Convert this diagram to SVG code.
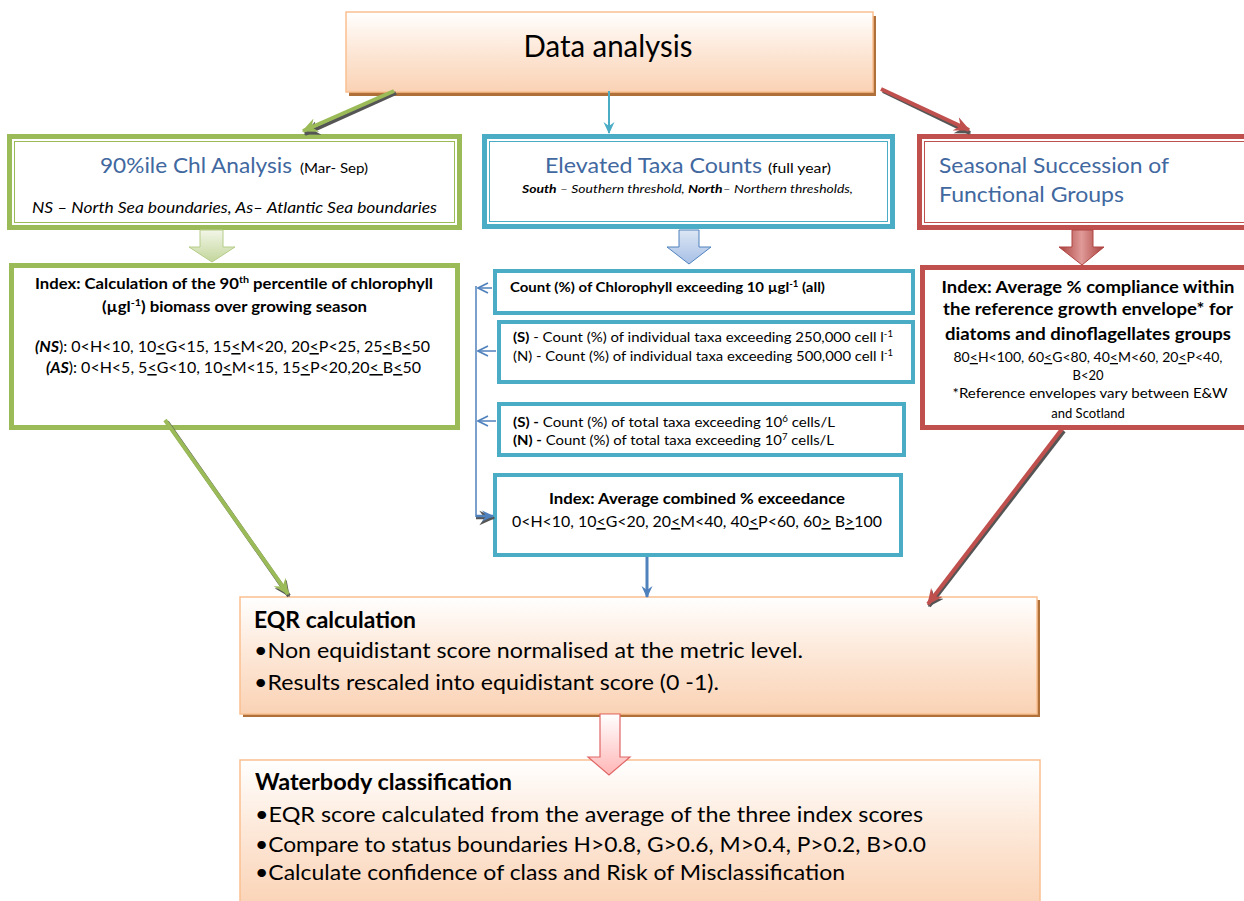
<svg xmlns="http://www.w3.org/2000/svg" width="1244" height="901" viewBox="0 0 1244 901">
<style>
text{font-family:Lato,"Open Sans","Liberation Sans",sans-serif;fill:#000}
.hd{fill:#41689F;font-size:22px}
.sm{font-size:14px}
.b{font-weight:bold}
.i{font-style:italic}
.u{text-decoration:underline}
.gb{fill:none;stroke:#9BBB59}
.bb{fill:none;stroke:#4BACC6}
.rb{fill:none;stroke:#C0504D}
.wf{fill:#fff}
</style>
<defs>
<linearGradient id="peach" x1="0" y1="0" x2="0" y2="1">
<stop offset="0" stop-color="#FFFFFF"/><stop offset="0.45" stop-color="#FDE9DA"/><stop offset="1" stop-color="#FAD2B4"/>
</linearGradient>
<linearGradient id="gArr" x1="0" y1="0" x2="0" y2="1">
<stop offset="0" stop-color="#F2F6E8"/><stop offset="1" stop-color="#C3D69B"/>
</linearGradient>
<linearGradient id="bArr" x1="0" y1="0" x2="0" y2="1">
<stop offset="0" stop-color="#DCE6F4"/><stop offset="1" stop-color="#A7C0E6"/>
</linearGradient>
<linearGradient id="rArr" x1="0" y1="0" x2="1" y2="0">
<stop offset="0" stop-color="#A8403D"/><stop offset="0.5" stop-color="#E09A98"/><stop offset="1" stop-color="#A8403D"/>
</linearGradient>
<linearGradient id="pArr" x1="0" y1="0" x2="0" y2="1">
<stop offset="0" stop-color="#FFFFFF"/><stop offset="1" stop-color="#FFB6B6"/>
</linearGradient>
<marker id="mg" viewBox="0 0 12 12" refX="11" refY="6" markerWidth="16" markerHeight="16" markerUnits="userSpaceOnUse" orient="auto"><path d="M0,0.5 L12,6 L0,11.5 L4,6 z" fill="#9BBB59"/></marker>
<marker id="ms" viewBox="0 0 12 12" refX="11" refY="6" markerWidth="16" markerHeight="16" markerUnits="userSpaceOnUse" orient="auto"><path d="M0,0.5 L12,6 L0,11.5 L4,6 z" fill="#555"/></marker>
<marker id="mr" viewBox="0 0 12 12" refX="11" refY="6" markerWidth="16" markerHeight="16" markerUnits="userSpaceOnUse" orient="auto"><path d="M0,0.5 L12,6 L0,11.5 L4,6 z" fill="#C0504D"/></marker>
<marker id="mb" viewBox="0 0 12 12" refX="11" refY="6" markerWidth="12" markerHeight="12" markerUnits="userSpaceOnUse" orient="auto"><path d="M0,0.5 L12,6 L0,11.5 L4,6 z" fill="#4BACC6"/></marker>
<marker id="md" viewBox="0 0 12 12" refX="11" refY="6" markerWidth="12" markerHeight="12" markerUnits="userSpaceOnUse" orient="auto"><path d="M0,0.5 L12,6 L0,11.5 L4,6 z" fill="#4F81BD"/></marker>
<marker id="mo" viewBox="0 0 12 12" refX="11" refY="6" markerWidth="12" markerHeight="12" markerUnits="userSpaceOnUse" orient="auto"><path d="M1,1 L11,6 L1,11" fill="none" stroke="#4F81BD" stroke-width="1.6"/></marker>
</defs>

<g id="data-analysis">
<rect x="349" y="16" width="527" height="80" fill="#B0703A"/>
<rect x="346" y="12" width="527" height="80" fill="url(#peach)" stroke="#FAC090" stroke-width="1.5"/>
<text x="608" y="57" font-size="31" text-anchor="middle" textLength="169" lengthAdjust="spacingAndGlyphs">Data analysis</text>
</g>

<g id="chl-analysis">
<rect x="9.5" y="136.5" width="450" height="91" class="wf"/>
<rect x="9.5" y="136.5" width="450" height="91" class="gb" stroke-width="5"/>
<rect x="14.5" y="141.5" width="440" height="81" class="gb" stroke-width="1"/>
<text x="100" y="173" class="hd" textLength="192" lengthAdjust="spacingAndGlyphs">90%ile Chl Analysis</text>
<text x="300" y="173" class="sm" textLength="68" lengthAdjust="spacingAndGlyphs">(Mar- Sep)</text>
<text x="32" y="213" font-size="16" class="i" textLength="405" lengthAdjust="spacingAndGlyphs">NS – North Sea boundaries,  As– Atlantic Sea boundaries</text>
</g>

<g id="taxa-counts">
<rect x="484.5" y="136.5" width="408" height="90" class="wf"/>
<rect x="484.5" y="136.5" width="408" height="90" class="bb" stroke-width="5"/>
<rect x="489.5" y="141.5" width="398" height="80" class="bb" stroke-width="1"/>
<text x="545" y="173" class="hd" textLength="217" lengthAdjust="spacingAndGlyphs">Elevated Taxa Counts</text>
<text x="768" y="173" class="sm" textLength="63" lengthAdjust="spacingAndGlyphs">(full year)</text>
<text x="522" y="193" font-size="12" class="i" textLength="331" lengthAdjust="spacingAndGlyphs"><tspan class="b">South</tspan> – Southern threshold,  <tspan class="b">North</tspan>– Northern thresholds,</text>
</g>

<g id="seasonal-succession">
<rect x="919.5" y="136.5" width="340" height="91" class="wf"/>
<rect x="919.5" y="136.5" width="340" height="91" class="rb" stroke-width="5"/>
<rect x="924.5" y="141.5" width="330" height="81" class="rb" stroke-width="1"/>
<text x="939" y="173" class="hd" textLength="230" lengthAdjust="spacingAndGlyphs">Seasonal Succession of</text>
<text x="939" y="202" class="hd" textLength="185" lengthAdjust="spacingAndGlyphs">Functional Groups</text>
</g>

<g id="chl-index">
<rect x="11.5" y="265.5" width="446" height="162" class="wf"/>
<rect x="11.5" y="265.5" width="446" height="162" class="gb" stroke-width="5"/>
<text x="35" y="289" font-size="15.5" class="b" textLength="398" lengthAdjust="spacingAndGlyphs">Index: Calculation of the 90<tspan dy="-6" font-size="10">th</tspan><tspan dy="6"> percentile of chlorophyll</tspan></text>
<text x="102" y="312" font-size="15.5" class="b" textLength="265" lengthAdjust="spacingAndGlyphs">(µgl<tspan dy="-6" font-size="10">-1</tspan><tspan dy="6">) biomass over growing season</tspan></text>
<text x="35" y="352" font-size="15.5" textLength="395" lengthAdjust="spacingAndGlyphs"><tspan class="b i">(NS</tspan>): 0&lt;H&lt;10, 10<tspan class="u">&lt;</tspan>G&lt;15, 15<tspan class="u">&lt;</tspan>M&lt;20, 20<tspan class="u">&lt;</tspan>P&lt;25, 25<tspan class="u">&lt;</tspan>B<tspan class="u">&lt;</tspan>50</text>
<text x="46" y="373" font-size="15.5" textLength="375" lengthAdjust="spacingAndGlyphs"><tspan class="b i">(AS</tspan>): 0&lt;H&lt;5, 5<tspan class="u">&lt;</tspan>G&lt;10, 10<tspan class="u">&lt;</tspan>M&lt;15, 15<tspan class="u">&lt;</tspan>P&lt;20,20<tspan class="u">&lt; </tspan>B<tspan class="u">&lt;</tspan>50</text>
</g>

<g id="count-chl">
<rect x="495" y="271" width="418" height="42" class="wf"/>
<rect x="495" y="271" width="418" height="42" class="bb" stroke-width="4"/>
<text x="510" y="292" font-size="14" class="b" textLength="315" lengthAdjust="spacingAndGlyphs">Count (%) of Chlorophyll exceeding 10 µgl<tspan dy="-5" font-size="9">-1</tspan><tspan dy="5"> (all)</tspan></text>
</g>

<g id="count-individual">
<rect x="499" y="322" width="414" height="60" class="wf"/>
<rect x="499" y="322" width="414" height="60" class="bb" stroke-width="4"/>
<text x="513" y="342" font-size="14" textLength="380" lengthAdjust="spacingAndGlyphs"><tspan class="b">(S)</tspan> - Count (%) of individual taxa exceeding  250,000 cell l<tspan dy="-5" font-size="9">-1</tspan></text>
<text x="513" y="361" font-size="14" textLength="380" lengthAdjust="spacingAndGlyphs">(N) - Count (%) of individual taxa exceeding  500,000 cell l<tspan dy="-5" font-size="9">-1</tspan></text>
</g>

<g id="count-total">
<rect x="499" y="404" width="405" height="51" class="wf"/>
<rect x="499" y="404" width="405" height="51" class="bb" stroke-width="4"/>
<text x="513" y="427" font-size="14" textLength="322" lengthAdjust="spacingAndGlyphs"><tspan class="b">(S) -</tspan>   Count (%) of total taxa exceeding 10<tspan dy="-5" font-size="9">6</tspan><tspan dy="5"> cells/L</tspan></text>
<text x="513" y="445" font-size="14" textLength="321" lengthAdjust="spacingAndGlyphs"><tspan class="b">(N) -</tspan>  Count (%) of total taxa exceeding 10<tspan dy="-5" font-size="9">7</tspan><tspan dy="5"> cells/L</tspan></text>
</g>

<g id="taxa-index">
<rect x="495" y="475" width="406" height="80" class="wf"/>
<rect x="495" y="475" width="406" height="80" class="bb" stroke-width="4"/>
<text x="549" y="504" font-size="16" class="b" textLength="296" lengthAdjust="spacingAndGlyphs">Index: Average combined % exceedance</text>
<text x="512" y="527" font-size="16" textLength="370" lengthAdjust="spacingAndGlyphs">0&lt;H&lt;10, 10<tspan class="u">&lt;</tspan>G&lt;20, 20<tspan class="u">&lt;</tspan>M&lt;40,  40<tspan class="u">&lt;</tspan>P&lt;60, 60<tspan class="u">&gt;</tspan> B<tspan class="u">&gt;</tspan>100</text>
</g>

<g id="seasonal-index">
<rect x="922.5" y="267.5" width="340" height="160" class="wf"/>
<rect x="922.5" y="267.5" width="340" height="160" class="rb" stroke-width="5"/>
<text x="1088" y="293" font-size="17.5" class="b" text-anchor="middle" textLength="293" lengthAdjust="spacingAndGlyphs">Index: Average % compliance within</text>
<text x="1088" y="315" font-size="17.5" class="b" text-anchor="middle" textLength="290" lengthAdjust="spacingAndGlyphs">the reference growth envelope* for</text>
<text x="1088" y="340" font-size="17.5" class="b" text-anchor="middle" textLength="286" lengthAdjust="spacingAndGlyphs">diatoms and dinoflagellates groups</text>
<text x="1088" y="362" font-size="13" text-anchor="middle" textLength="269" lengthAdjust="spacingAndGlyphs">80<tspan class="u">&lt;</tspan>H&lt;100, 60<tspan class="u">&lt;</tspan>G&lt;80, 40<tspan class="u">&lt;</tspan>M&lt;60, 20<tspan class="u">&lt;</tspan>P&lt;40,</text>
<text x="1088" y="380" font-size="13" text-anchor="middle">B&lt;20</text>
<text x="1090" y="398" font-size="13" text-anchor="middle" textLength="275" lengthAdjust="spacingAndGlyphs">*Reference envelopes  vary between E&amp;W</text>
<text x="1088" y="418" font-size="13" text-anchor="middle">and Scotland</text>
</g>

<g id="eqr-calculation">
<rect x="243" y="600" width="797" height="117" fill="#B0703A"/>
<rect x="240" y="597" width="797" height="117" fill="url(#peach)" stroke="#FAC090" stroke-width="1.5"/>
<text x="254" y="628" font-size="22" class="b" textLength="162" lengthAdjust="spacingAndGlyphs">EQR calculation</text>
<text x="254" y="658" font-size="22" textLength="549" lengthAdjust="spacingAndGlyphs">•Non equidistant score normalised at the metric level.</text>
<text x="254" y="690" font-size="22" textLength="465" lengthAdjust="spacingAndGlyphs">•Results rescaled into equidistant score (0 -1).</text>
</g>

<g id="waterbody-classification">
<rect x="240" y="760" width="800" height="150" fill="url(#peach)" stroke="#FAC090" stroke-width="1.5"/>
<text x="255" y="790" font-size="22" class="b" textLength="257" lengthAdjust="spacingAndGlyphs">Waterbody classification</text>
<text x="255" y="822" font-size="22" textLength="668" lengthAdjust="spacingAndGlyphs">•EQR score  calculated from the average of the three index scores</text>
<text x="255" y="852" font-size="22" textLength="671" lengthAdjust="spacingAndGlyphs">•Compare to status boundaries H&gt;0.8, G&gt;0.6, M&gt;0.4, P&gt;0.2, B&gt;0.0</text>
<text x="255" y="880" font-size="22" textLength="590" lengthAdjust="spacingAndGlyphs">•Calculate confidence of class and Risk of Misclassification</text>
</g>

<g id="connectors" fill="none">
<path d="M200,230 H223 V247 H235 L212,262 L189,247 H200 Z" fill="url(#gArr)" stroke="#B5CC88" stroke-width="1"/>
<path d="M679,230 H699 V247 H711 L689,264 L667,247 H679 Z" fill="url(#bArr)" stroke="#4F81BD" stroke-width="1"/>
<path d="M1072,230 H1093 V247 H1104 L1082,265 L1059,247 H1072 Z" fill="url(#rArr)" stroke="#B04542" stroke-width="1"/>
<path d="M600,714 H620 V757 H630 L609,775 L588,757 H600 Z" fill="url(#pArr)" stroke="#E06666" stroke-width="1.2"/>
<line x1="396" y1="93" x2="305" y2="134" stroke="#555" stroke-width="4" marker-end="url(#ms)"/>
<line x1="394" y1="91" x2="303" y2="131" stroke="#9BBB59" stroke-width="4" marker-end="url(#mg)"/>
<line x1="609" y1="91" x2="609" y2="133" stroke="#4BACC6" stroke-width="2" marker-end="url(#mb)"/>
<line x1="883" y1="91" x2="970" y2="133" stroke="#555" stroke-width="4" marker-end="url(#ms)"/>
<line x1="881" y1="89" x2="969" y2="130" stroke="#C0504D" stroke-width="4" marker-end="url(#mr)"/>
<line x1="167" y1="422" x2="289" y2="596" stroke="#555" stroke-width="4" marker-end="url(#ms)"/>
<line x1="165" y1="420" x2="288" y2="594" stroke="#9BBB59" stroke-width="4" marker-end="url(#mg)"/>
<line x1="1064" y1="431" x2="929" y2="606" stroke="#555" stroke-width="4" marker-end="url(#ms)"/>
<line x1="1062" y1="429" x2="928" y2="604" stroke="#C0504D" stroke-width="4" marker-end="url(#mr)"/>
<line x1="647" y1="557" x2="647" y2="597" stroke="#4F81BD" stroke-width="3" marker-end="url(#md)"/>
<line x1="476" y1="286" x2="476" y2="517" stroke="#4F81BD" stroke-width="1.5"/>
<line x1="492" y1="288" x2="478" y2="288" stroke="#4F81BD" stroke-width="1.5" marker-end="url(#mo)"/>
<line x1="496" y1="351" x2="478" y2="351" stroke="#4F81BD" stroke-width="1.5" marker-end="url(#mo)"/>
<line x1="496" y1="421" x2="478" y2="421" stroke="#4F81BD" stroke-width="1.5" marker-end="url(#mo)"/>
<line x1="476" y1="518" x2="494" y2="518" stroke="#555" stroke-width="2.5" marker-end="url(#ms)"/>
<line x1="476" y1="516" x2="493" y2="516" stroke="#4F81BD" stroke-width="2.5" marker-end="url(#md)"/>
</g>
</svg>
